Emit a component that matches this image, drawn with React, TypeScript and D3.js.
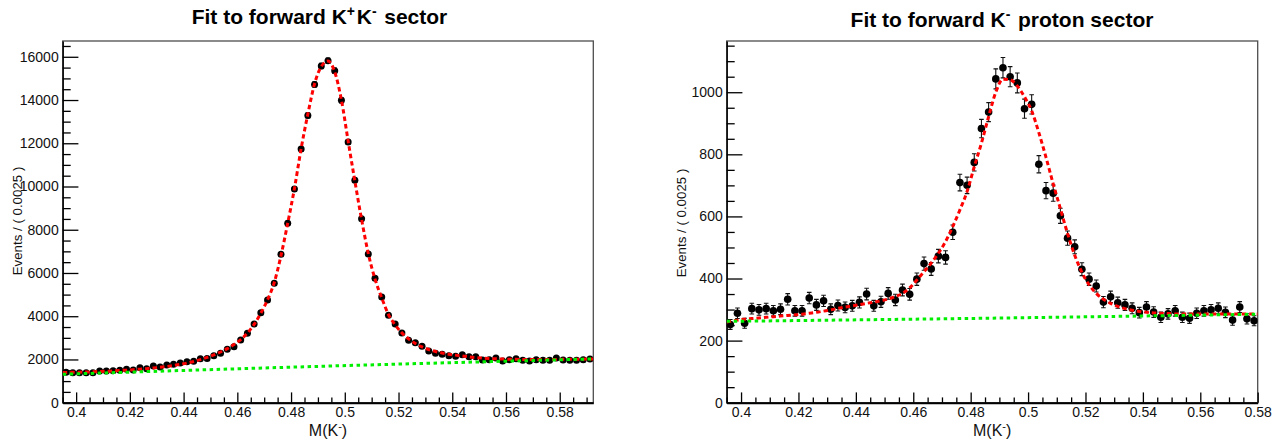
import React, { useEffect, useRef } from "react";
import * as d3 from "d3";

const FONT = "'Liberation Sans', Arial, Helvetica, sans-serif";
const binWidth = 0.0025;

// ---- left pad: forward K+K- sector (79 bins from 0.395)
const leftRange = [0.395, 0.5925];
const leftYMax = 16730;
const leftCounts = [
  1405, 1390, 1380, 1390, 1380, 1466, 1466, 1480, 1500, 1544,
  1513, 1620, 1570, 1697, 1650, 1743, 1774, 1836, 1897, 1913,
  2035, 2050, 2174, 2282, 2468, 2590, 2900, 3209, 3640, 4162,
  4749, 5521, 6862, 8296, 9882, 11730, 13288, 14723, 15570, 15815,
  15353, 13984, 12055, 10284, 8509, 6876, 5752, 4888, 4042, 3640,
  3223, 2885, 2775, 2608, 2391, 2282, 2236, 2174, 2143, 2220,
  2128, 2128, 1975, 1990, 2067, 1928, 1990, 2035, 1960, 1928,
  1990, 1960, 1960, 2067, 1975, 1960, 1960, 1990, 2020,
];
// total fit read at the bin centres
const leftFit = [
  1400, 1405, 1412, 1420, 1430, 1442, 1455, 1470, 1487, 1506,
  1527, 1550, 1576, 1605, 1638, 1676, 1720, 1772, 1834, 1908,
  1995, 2095, 2210, 2345, 2500, 2690, 2920, 3220, 3620, 4140,
  4760, 5560, 6800, 8300, 9900, 11750, 13350, 14750, 15550, 15800,
  15300, 14000, 12100, 10250, 8480, 6900, 5720, 4850, 4080, 3600,
  3230, 2950, 2740, 2580, 2460, 2370, 2300, 2245, 2200, 2160,
  2120, 2090, 2065, 2045, 2030, 2020, 2012, 2006, 2002, 1999,
  1998, 1998, 1999, 2001, 2004, 2007, 2011, 2015, 2020,
];
const leftFitEnds = [1398, 2022];
const leftBgX = [0.395, 0.49, 0.5925];
const leftBgY = [1315, 1680, 2025];
const leftYTicks = [0, 2000, 4000, 6000, 8000, 10000, 12000, 14000, 16000];

// ---- right pad: forward K- proton sector (74 bins from 0.395)
const rightRange = [0.395, 0.58];
const rightYMax = 1165;
const rightCounts = [
  252, 288, 256, 303, 299, 303, 296, 301, 333, 296,
  296, 337, 315, 328, 301, 313, 307, 312, 323, 350,
  312, 325, 352, 331, 363, 349, 398, 448, 431, 472,
  468, 549, 709, 700, 774, 883, 936, 1043, 1079, 1050,
  1030, 947, 961, 768, 683, 675, 602, 530, 502, 430,
  398, 376, 324, 341, 322, 315, 304, 290, 308, 292,
  275, 286, 296, 275, 272, 288, 296, 299, 304, 291,
  266, 308, 270, 264,
];
const rightFit = [
  262, 266, 269, 271, 273, 275, 277, 279, 281, 283,
  285, 288, 291, 295, 299, 304, 308, 312, 316, 320,
  324, 328, 334, 342, 352, 370, 395, 422, 450, 481,
  519, 567, 621, 680, 760, 836, 921, 1000, 1042, 1040,
  1020, 985, 940, 870, 790, 705, 625, 545, 475, 420,
  380, 352, 333, 320, 310, 303, 298, 294, 291, 289,
  288, 287, 286, 286, 286, 286, 286, 286, 286, 286,
  286, 286, 286, 286,
];
const rightFitEnds = [260, 286];
const rightBgX = [0.395, 0.485, 0.58];
const rightBgY = [262, 272, 285];
const rightYTicks = [0, 200, 400, 600, 800, 1000];

const xTicks = [0.4, 0.42, 0.44, 0.46, 0.48, 0.5, 0.52, 0.54, 0.56, 0.58];

const frameTop = 41;
const frameBottom = 402.7;

function Pad(props) {
  const ref = useRef(null);

  useEffect(() => {
    const g = d3.select(ref.current);
    g.selectAll("*").remove();
    const p = props;

    const x = d3.scaleLinear().domain(p.range).range([p.x0, p.x1]);
    const y = d3.scaleLinear().domain([0, p.yMax]).range([frameBottom, frameTop]);

    const clipId = "clip-" + p.id;
    g.append("clipPath").attr("id", clipId)
      .append("rect")
      .attr("x", p.x0).attr("y", frameTop)
      .attr("width", p.x1 - p.x0).attr("height", frameBottom - frameTop);

    // frame
    g.append("rect")
      .attr("x", p.x0).attr("y", frameTop)
      .attr("width", p.x1 - p.x0).attr("height", frameBottom - frameTop)
      .attr("fill", "none").attr("stroke", "#4d4d4d").attr("stroke-width", 1.3);

    // y axis
    const yMinor = d3.range(0, p.yMax, p.yMinorStep).filter(v => p.yTicks.indexOf(v) < 0);
    const yMinorAxis = g.append("g").attr("transform", `translate(${p.x0},0)`)
      .call(d3.axisLeft(y).tickValues(yMinor).tickSize(-8).tickSizeOuter(0).tickFormat(() => ""));
    yMinorAxis.select(".domain").remove();
    const yAxis = g.append("g").attr("transform", `translate(${p.x0},0)`)
      .call(d3.axisLeft(y).tickValues(p.yTicks).tickSize(-15.7).tickSizeOuter(0).tickPadding(4).tickFormat(d3.format("d")));
    yAxis.select(".domain").attr("stroke", "#000").attr("stroke-width", 1.4);
    g.selectAll(".tick line").attr("stroke", "#000").attr("stroke-width", 1.3);
    yAxis.selectAll("text").attr("font-family", FONT).attr("font-size", 14).attr("fill", "#111");

    // x axis
    const xMinor = d3.range(0, 40).map(i => +(p.range[0] + i * 0.005).toFixed(4))
      .filter(v => v <= p.range[1] + 1e-9 && xTicks.every(t => Math.abs(t - v) > 1e-6));
    const xMinorAxis = g.append("g").attr("transform", `translate(0,${frameBottom})`)
      .call(d3.axisBottom(x).tickValues(xMinor).tickSize(-5.3).tickSizeOuter(0).tickFormat(() => ""));
    xMinorAxis.select(".domain").remove();
    const xAxis = g.append("g").attr("transform", `translate(0,${frameBottom})`)
      .call(d3.axisBottom(x).tickValues(xTicks).tickSize(-10.3).tickSizeOuter(0).tickPadding(4.5)
        .tickFormat(v => String(+(+v).toFixed(3))));
    xAxis.select(".domain").attr("stroke", "#000").attr("stroke-width", 2);
    g.selectAll(".tick line").attr("stroke", "#000").attr("stroke-width", 1.3);
    xAxis.selectAll("text").attr("font-family", FONT).attr("font-size", 14).attr("fill", "#111");

    const plot = g.append("g").attr("clip-path", `url(#${clipId})`);
    const centres = p.counts.map((_, i) => p.range[0] + (i + 0.5) * binWidth);

    // data points with error bars
    const pts = plot.append("g");
    p.counts.forEach((n, i) => {
      const cx = x(centres[i]);
      const err = Math.sqrt(n);
      const yt = y(n + err), yb = y(n - err);
      pts.append("line").attr("x1", cx).attr("x2", cx).attr("y1", yt).attr("y2", yb)
        .attr("stroke", "#111").attr("stroke-width", 1.1);
      [yt, yb].forEach(yy => pts.append("line")
        .attr("x1", cx - 2.3).attr("x2", cx + 2.3).attr("y1", yy).attr("y2", yy)
        .attr("stroke", "#111").attr("stroke-width", 1.1));
      pts.append("circle").attr("cx", cx).attr("cy", y(n)).attr("r", p.r).attr("fill", "#000");
    });

    // total fit
    const fitPts = [[p.range[0], p.fitEnds[0]]]
      .concat(p.fit.map((v, i) => [centres[i], v]))
      .concat([[p.range[1], p.fitEnds[1]]]);
    const line = d3.line().x(d => x(d[0])).y(d => y(d[1])).curve(d3.curveMonotoneX);
    plot.append("path").attr("d", line(fitPts))
      .attr("fill", "none").attr("stroke", "#ff0000").attr("stroke-width", 3)
      .attr("stroke-dasharray", "4.5,3");

    // background
    plot.append("path").attr("d", line(p.bgX.map((v, i) => [v, p.bgY[i]])))
      .attr("fill", "none").attr("stroke", "#00ee00").attr("stroke-width", 3)
      .attr("stroke-dasharray", "3.5,3.5");

    // title
    const t = g.append("text").attr("x", p.titleX).attr("y", p.titleY)
      .attr("text-anchor", "middle").attr("font-family", FONT)
      .attr("font-size", 21).attr("font-weight", "bold").attr("fill", "#000");
    p.title.forEach(part => {
      if (part.sup) {
        t.append("tspan").attr("dy", -8).attr("font-size", 14).text(part.sup);
        t.append("tspan").attr("dy", 8).text("\u200a");
      } else {
        t.append("tspan").text(part.text);
      }
    });

    // x title
    const xt = g.append("text").attr("x", (p.x0 + p.x1) / 2).attr("y", 436)
      .attr("text-anchor", "middle").attr("font-family", FONT).attr("font-size", 16).attr("fill", "#111");
    xt.append("tspan").text("M(K");
    xt.append("tspan").attr("dy", -6).attr("font-size", 11).text("-");
    xt.append("tspan").attr("dy", 6).text(")");

    // y title
    g.append("text")
      .attr("transform", `translate(${p.yTitleX},${p.yTitleY}) rotate(-90)`)
      .attr("text-anchor", "middle").attr("font-family", FONT).attr("font-size", 13.3).attr("fill", "#111")
      .text("Events / ( 0.0025 )");
  }, []);

  return <g ref={ref} />;
}

export default function App() {
  return (
    <svg width={1281} height={442} style={{ position: "absolute", left: 0, top: 0, background: "#fff" }}>
      <rect x={0} y={0} width={1281} height={442} fill="#fff" />
      <Pad
        id="kk"
        x0={62.7} x1={593.3}
        range={leftRange} yMax={leftYMax} yTicks={leftYTicks} yMinorStep={500}
        counts={leftCounts} fit={leftFit} fitEnds={leftFitEnds}
        bgX={leftBgX} bgY={leftBgY} r={3.5}
        title={[{ text: "Fit to forward K" }, { sup: "+" }, { text: "K" }, { sup: "-" }, { text: " sector" }]}
        titleX={319.5} titleY={23.5}
        yTitleX={22} yTitleY={221}
      />
      <Pad
        id="kp"
        x0={726.7} x1={1257.7}
        range={rightRange} yMax={rightYMax} yTicks={rightYTicks} yMinorStep={50}
        counts={rightCounts} fit={rightFit} fitEnds={rightFitEnds}
        bgX={rightBgX} bgY={rightBgY} r={3.8}
        title={[{ text: "Fit to forward K" }, { sup: "-" }, { text: " proton sector" }]}
        titleX={1002} titleY={26.7}
        yTitleX={686} yTitleY={223}
      />
    </svg>
  );
}
